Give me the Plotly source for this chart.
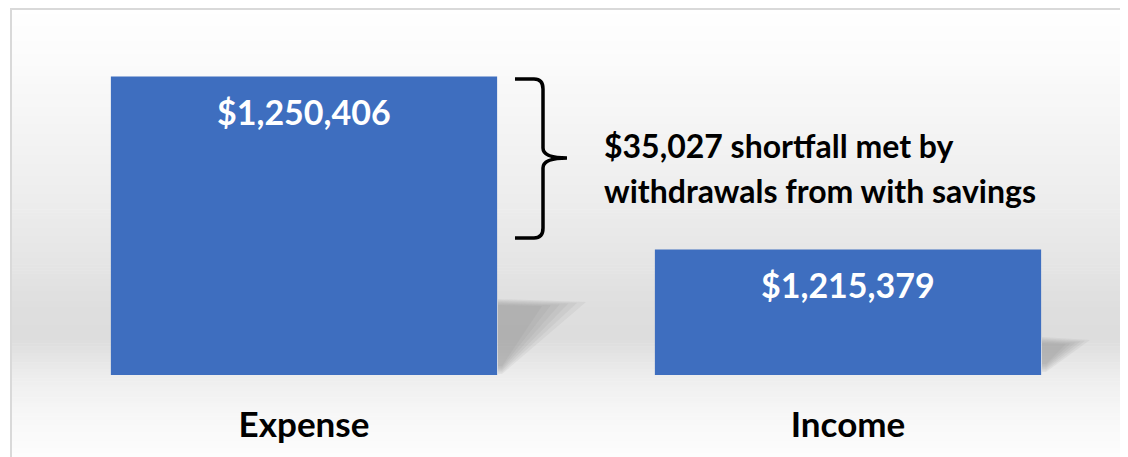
import plotly.graph_objects as go

categories = ["Expense", "Income"]
amounts = [1250406, 1215379]
note_tail = ["shortfall met by", "withdrawals from with savings"]

# the page body adds an 8px margin, so work in reference pixels shifted by 8
OFF = 8
W, H = 1128 - OFF, 457 - OFF
ML, MR, MT, MB = 32 - OFF, 8, 29 - OFF, 82
PW, PH = W - ML - MR, H - MT - MB


def px(x):
    return (x - OFF - ML) / PW


def py(y):
    return (H - MB - (y - OFF)) / PH


fig = go.Figure()

fig.add_trace(go.Bar(
    x=categories,
    y=amounts,
    marker=dict(color="#3e6ebf", line=dict(width=0)),
    hoverinfo="skip",
))

# value labels near top of each bar
for cat, val in zip(categories, amounts):
    fig.add_annotation(
        x=cat, y=val, yshift=-35, text=f"${val:,.0f}", showarrow=False,
        font=dict(family="Lato", size=34, color="white", weight="bold"),
        xanchor="center", yanchor="middle",
    )

shapes = []

# soft grey background gradient
stops = [(8, 255), (60, 251), (140, 243), (200, 237), (255, 230), (310, 222),
         (340, 221), (375, 237), (410, 246), (457, 253)]
for (ya, ca), (yb, cb) in zip(stops[:-1], stops[1:]):
    n = max(1, (yb - ya) // 3)
    for i in range(n):
        y0 = ya + (yb - ya) * i / n
        y1 = ya + (yb - ya) * (i + 1) / n
        g = round(ca + (cb - ca) * (i + 0.5) / n)
        shapes.append(dict(
            type="rect", xref="paper", yref="paper", layer="below",
            x0=px(10), x1=px(1140), y0=py(y1 + 0.5), y1=py(y0),
            fillcolor=f"rgb({g},{g},{g})", line=dict(width=0),
        ))

# chart border (top and left visible)
shapes.append(dict(
    type="rect", xref="paper", yref="paper", layer="below",
    x0=px(11), x1=px(1150), y0=py(480), y1=py(9),
    line=dict(color="#d9d9d9", width=2), fillcolor="rgba(0,0,0,0)",
))


def poly(points):
    return "M " + " L ".join(f"{px(x):.5f},{py(y):.5f}" for x, y in points) + " Z"


# blurred perspective shadows behind the bars
def shadow(x0, ytop, reach, ybot):
    out = []
    for k in range(6):
        s = k / 5
        pts = [(x0, ytop + 6 * s), (x0 + reach * (1 - 0.5 * s), ytop + 3 + 4 * s),
               (x0 + 4, ybot - 8 * s), (x0, ybot - 8 * s)]
        out.append(pts)
    return out


for pts_list in [shadow(498, 299, 88, 374), shadow(1042, 337, 48, 372)]:
    for pts in pts_list:
        shapes.append(dict(
            type="path", xref="paper", yref="paper", layer="below",
            path=poly(pts), fillcolor="rgba(120,120,120,0.09)", line=dict(width=0),
        ))


# curly brace
def brace_path():
    p = lambda x, y: f"{px(x):.5f},{py(y):.5f}"
    return (f"M {p(515, 79)} L {p(534, 79)} Q {p(543, 79)} {p(543, 89)} "
            f"L {p(543, 148)} Q {p(543, 158)} {p(567, 158)} "
            f"Q {p(543, 158)} {p(543, 168)} L {p(543, 228)} "
            f"Q {p(543, 238)} {p(534, 238)} L {p(515, 238)}")


shapes.append(dict(
    type="path", xref="paper", yref="paper", path=brace_path(),
    line=dict(color="black", width=3.5), fillcolor="rgba(0,0,0,0)",
))

fig.update_layout(shapes=shapes)

gap = amounts[0] - amounts[1]
note_lines = [f"${gap:,.0f} {note_tail[0]}", note_tail[1]]
for text, ypix in zip(note_lines, [145, 190]):
    fig.add_annotation(
        x=px(602), y=py(ypix), xref="paper", yref="paper", text=text,
        showarrow=False, xanchor="left", yanchor="middle",
        font=dict(family="Lato", size=32, color="black", weight="bold"),
    )

fig.update_layout(
    width=W, height=H,
    margin=dict(l=ML, r=MR, t=MT, b=MB),
    paper_bgcolor="white",
    plot_bgcolor="rgba(0,0,0,0)",
    bargap=0.29,
    showlegend=False,
    xaxis=dict(
        showline=False, showgrid=False, zeroline=False, ticks="",
        ticklabelstandoff=26,
        tickfont=dict(family="Lato", size=35, color="black", weight="bold"),
    ),
    yaxis=dict(
        range=[1190000, 1260000], visible=False, showgrid=False,
    ),
)

fig.write_html("out.html")
